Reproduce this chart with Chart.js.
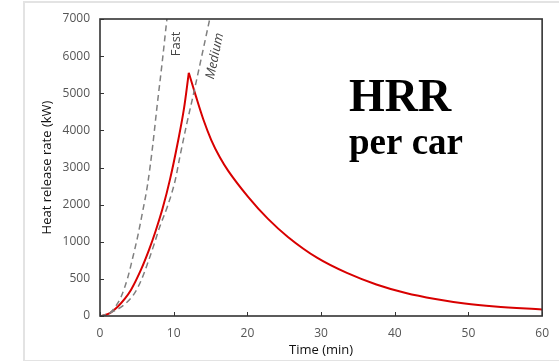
<!DOCTYPE html>
<html>
<head>
<meta charset="utf-8">
<script src="https://cdn.jsdelivr.net/npm/chart.js@4.4.1/dist/chart.umd.min.js"></script>
<style>
  html, body { margin: 0; padding: 0; background: #fff; }
  #wrap { position: relative; width: 559px; height: 361px; }
  #frame { position: absolute; left: 23px; top: 1px; width: 540px; height: 357px;
           border: 2px solid #e3e3e3; border-right: none; }
  canvas { position: absolute; left: 0; top: 0; }
</style>
</head>
<body>
<div id="wrap">
  <div id="frame"></div>
  <canvas id="hrr" width="559" height="361"></canvas>
</div>
<script>
// printed y labels sit at equal spacing (0, 500, 1000, 2000 ... 7000)
const yTickLabels = [0, 500, 1000, 2000, 3000, 4000, 5000, 6000, 7000];

// red HRR curve, split at the peak so the tip stays sharp
const riseTime = [0.2, 1.35, 2.4, 3.35, 4.2, 5.55, 6.65, 7.55, 8.5, 9.5, 10.5, 11.4, 12.05];
const riseKw   = [0, 40, 125, 230, 350, 620, 890, 1290, 1900, 2680, 3620, 4590, 5550];
const decayTime = [12.05, 13.0, 14.05, 15.1, 16.3, 17.4, 20.1, 22.8, 25.5, 29.5, 33.5, 37.5, 41.5, 45.5, 49.5, 53.6, 60];
const decayKw   = [5550, 4930, 4280, 3740, 3260, 2910, 2210, 1615, 1130, 782, 580, 425, 310, 229, 168, 128, 88];

// t-squared reference growth curves (dashed)
const fastTime = [0, 0.67, 1.5, 2.15, 2.85, 3.75, 4.4, 5.1, 5.75, 6.45, 7.1, 7.75, 8.45, 9.1, 9.4];
const fastKw   = [0, 7, 54, 135, 256, 512, 768, 1130, 1776, 2530, 3500, 4660, 5850, 7030, 7520];
const mediumTime = [0, 1.35, 3.3, 4.65, 5.55, 6.45, 7.35, 8.1, 9.15, 10.2, 10.85, 11.8, 12.6, 13.6, 14.95, 15.3];
const mediumKw   = [0, 40, 154, 302, 472, 706, 968, 1400, 1950, 2650, 3300, 4200, 4900, 5810, 7050, 7360];

// kW -> position on the printed (uneven) axis, interpolating between the labels
function kwToAxis(v) {
  const n = yTickLabels.length;
  for (let i = 0; i < n - 1; i++) {
    if (v <= yTickLabels[i + 1]) {
      return i + (v - yTickLabels[i]) / (yTickLabels[i + 1] - yTickLabels[i]);
    }
  }
  return (n - 1) + (v - yTickLabels[n - 1]) / (yTickLabels[n - 1] - yTickLabels[n - 2]);
}

function toPoints(times, values) {
  return times.map((t, i) => ({ x: t, y: kwToAxis(values[i]) }));
}

const tickFont = { family: "'Open Sans', sans-serif", size: 12 };
const titleFont = { family: "'Open Sans', sans-serif", size: 13 };

const frameAndLabels = {
  id: "frameAndLabels",
  afterDatasetsDraw(chart) {
    const { ctx, chartArea: a, scales: { x, y } } = chart;
    ctx.save();
    ctx.strokeStyle = "#333";
    ctx.lineWidth = 1.6;
    ctx.strokeRect(a.left, a.top, a.right - a.left, a.bottom - a.top);
    // inward tick marks
    ctx.lineWidth = 1;
    ctx.beginPath();
    y.ticks.forEach((t, i) => {
      const py = Math.round(y.getPixelForTick(i)) + 0.5;
      ctx.moveTo(a.left, py);
      ctx.lineTo(a.left + 4, py);
    });
    x.ticks.forEach((t, i) => {
      const px = Math.round(x.getPixelForTick(i)) + 0.5;
      ctx.moveTo(px, a.bottom);
      ctx.lineTo(px, a.bottom - 4);
    });
    ctx.stroke();

    // curve labels
    ctx.fillStyle = "#444";
    ctx.textAlign = "center";
    ctx.textBaseline = "middle";
    ctx.save();
    ctx.font = "13px 'Open Sans', sans-serif";
    ctx.translate(x.getPixelForValue(10.35), y.getPixelForValue(7.33));
    ctx.rotate(-Math.PI / 2);
    ctx.fillText("Fast", 0, 0);
    ctx.restore();
    ctx.save();
    ctx.font = "italic 13px 'Open Sans', sans-serif";
    ctx.translate(x.getPixelForValue(15.6), y.getPixelForValue(7.0));
    ctx.rotate(-78 * Math.PI / 180);
    ctx.fillText("Medium", 0, 0);
    ctx.restore();

    // big label
    ctx.fillStyle = "#000";
    ctx.textBaseline = "alphabetic";
    ctx.font = "bold 46px 'Liberation Serif', 'Times New Roman', serif";
    ctx.fillText("HRR", a.left + 300, a.top + 92);
    ctx.font = "bold 37px 'Liberation Serif', 'Times New Roman', serif";
    ctx.fillText("per car", a.left + 306, a.top + 135);
    ctx.restore();
  }
};

new Chart(document.getElementById("hrr"), {
  type: "line",
  data: {
    datasets: [
      {
        label: "Fast",
        data: toPoints(fastTime, fastKw),
        borderColor: "#808080",
        borderWidth: 1.5,
        borderDash: [6, 4],
        pointRadius: 0,
        cubicInterpolationMode: "monotone",
      },
      {
        label: "Medium",
        data: toPoints(mediumTime, mediumKw),
        borderColor: "#808080",
        borderWidth: 1.5,
        borderDash: [6, 4],
        pointRadius: 0,
        cubicInterpolationMode: "monotone",
      },
      {
        label: "HRR rise",
        data: toPoints(riseTime, riseKw),
        borderColor: "#d80000",
        borderWidth: 2,
        pointRadius: 0,
        cubicInterpolationMode: "monotone",
      },
      {
        label: "HRR decay",
        data: toPoints(decayTime, decayKw),
        borderColor: "#d80000",
        borderWidth: 2,
        pointRadius: 0,
        cubicInterpolationMode: "monotone",
      },
    ],
  },
  options: {
    responsive: false,
    animation: false,
    layout: { padding: { top: 19, right: 11, left: 0, bottom: 0 } },
    plugins: { legend: { display: false }, tooltip: { enabled: false } },
    scales: {
      x: {
        type: "linear",
        min: 0,
        max: 60,
        ticks: { stepSize: 10, color: "#555", font: tickFont, padding: 10 },
        grid: { display: false, drawTicks: false },
        border: { display: false },
        title: { display: true, text: "Time (min)", color: "#111", font: titleFont, padding: { top: 0, bottom: 3 } },
        afterFit(scale) { scale.height = 45; },
      },
      y: {
        type: "linear",
        min: 0,
        max: yTickLabels.length - 1,
        ticks: {
          stepSize: 1,
          color: "#555",
          font: tickFont,
          padding: 10,
          callback: (v) => yTickLabels[Math.round(v)],
        },
        grid: { display: false, drawTicks: false },
        border: { display: false },
        title: { display: true, text: "Heat release rate (kW)", color: "#111", font: titleFont, padding: { top: 39, bottom: 0 } },
        afterFit(scale) { scale.width = 100; },
      },
    },
  },
  plugins: [frameAndLabels],
});
</script>
</body>
</html>
